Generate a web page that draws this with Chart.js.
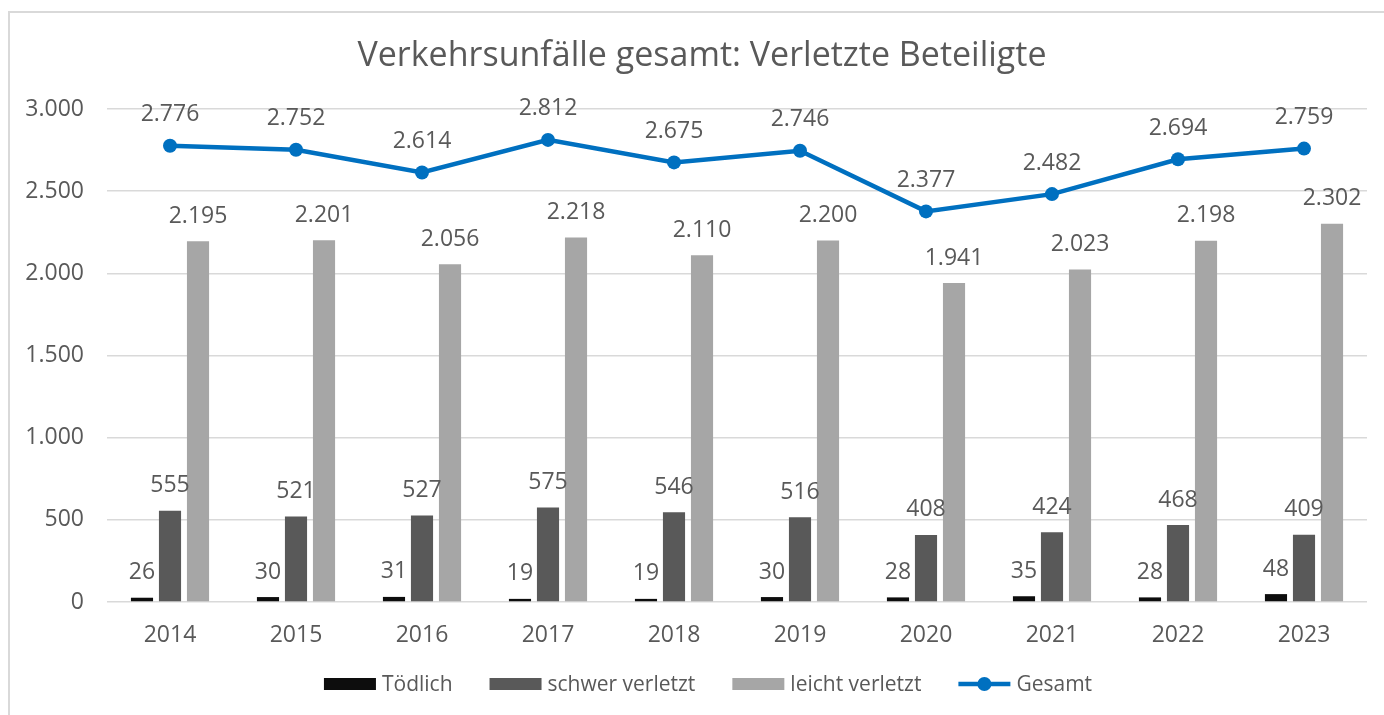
<!DOCTYPE html>
<html>
<head>
<meta charset="utf-8">
<script src="https://cdn.jsdelivr.net/npm/chart.js@4.4.1/dist/chart.umd.min.js"></script>
<style>
  html, body { margin: 0; padding: 0; background: #fff; overflow: hidden; }
  #frame { position: absolute; left: 8px; top: 11px; width: 1400px; height: 720px;
           border-left: 2px solid #d9d9d9; border-top: 2px solid #d9d9d9; }
  #wrap { position: absolute; left: 0; top: 0; width: 1384px; height: 715px; }
</style>
</head>
<body>
<div id="frame"></div>
<div id="wrap"><canvas id="myChart" width="1384" height="715"></canvas></div>
<script>
const chartTitle = 'Verkehrsunfälle gesamt: Verletzte Beteiligte'
const years = ['2014', '2015', '2016', '2017', '2018', '2019', '2020', '2021', '2022', '2023']
const toedlich = [26, 30, 31, 19, 19, 30, 28, 35, 28, 48]
const schwerVerletzt = [555, 521, 527, 575, 546, 516, 408, 424, 468, 409]
const leichtVerletzt = [2195, 2201, 2056, 2218, 2110, 2200, 1941, 2023, 2198, 2302]
const gesamt = [2776, 2752, 2614, 2812, 2675, 2746, 2377, 2482, 2694, 2759]
const yTicks = [0, 500, 1000, 1500, 2000, 2500, 3000]

const textColor = '#595959'
const fontFamily = "'Open Sans', 'Noto Sans', sans-serif"

var fmt = (v) => String(v).replace(/\B(?=(\d{3})+(?!\d))/g, '.')

// title, value labels and legend drawn on the canvas
const extras = {
    id: 'extras',
    afterDatasetsDraw(chart) {
        const ctx = chart.ctx
        ctx.save()
        ctx.fillStyle = textColor
        ctx.font = '23px ' + fontFamily
        ctx.textAlign = 'center'
        ctx.textBaseline = 'middle'
        chart.data.datasets.forEach((ds, i) => {
            const meta = chart.getDatasetMeta(i)
            meta.data.forEach((el, j) => {
                const off = ds.type === 'line' ? 31 : 25
                ctx.fillText(fmt(ds.data[j]), el.x, el.y - off)
            })
        })
        ctx.restore()
    },
    afterDraw(chart) {
        const ctx = chart.ctx
        ctx.save()
        ctx.fillStyle = textColor
        ctx.font = '34px ' + fontFamily
        ctx.textAlign = 'center'
        ctx.textBaseline = 'alphabetic'
        ctx.fillText(chartTitle, 702, 66)

        // legend
        ctx.font = '21px ' + fontFamily
        ctx.textAlign = 'left'
        ctx.textBaseline = 'middle'
        const items = chart.data.datasets.map(ds => ({
            text: ds.label, color: ds.type === 'line' ? ds.borderColor : ds.backgroundColor,
            line: ds.type === 'line', w: 52
        }))
        const gap = 6, sep = 37
        let total = 0
        items.forEach((it, k) => {
            it.tw = ctx.measureText(it.text).width
            total += it.w + gap + it.tw + (k < items.length - 1 ? sep : 0)
        })
        let x = 708 - total / 2
        const y = 684
        items.forEach(it => {
            if (it.line) {
                ctx.strokeStyle = it.color
                ctx.lineWidth = 4.5
                ctx.beginPath()
                ctx.moveTo(x, y)
                ctx.lineTo(x + it.w, y)
                ctx.stroke()
                ctx.fillStyle = it.color
                ctx.beginPath()
                ctx.arc(x + it.w / 2, y, 7, 0, Math.PI * 2)
                ctx.fill()
            } else {
                ctx.fillStyle = it.color
                ctx.fillRect(x, y - 6, it.w, 12)
            }
            ctx.fillStyle = textColor
            ctx.fillText(it.text, x + it.w + gap, y + 1)
            x += it.w + gap + it.tw + sep
        })
        ctx.restore()
    }
}

const barOpts = { barPercentage: 0.79, categoryPercentage: 0.667 }

const data = {
    labels: years,
    datasets: [
        Object.assign({ type: 'bar', label: 'Tödlich', data: toedlich, backgroundColor: '#0d0d0d', order: 2 }, barOpts),
        Object.assign({ type: 'bar', label: 'schwer verletzt', data: schwerVerletzt, backgroundColor: '#595959', order: 2 }, barOpts),
        Object.assign({ type: 'bar', label: 'leicht verletzt', data: leichtVerletzt, backgroundColor: '#a6a6a6', order: 2 }, barOpts),
        {
            type: 'line', label: 'Gesamt', data: gesamt,
            borderColor: '#0070c0', backgroundColor: '#0070c0',
            borderWidth: 4.5, pointRadius: 7, pointHoverRadius: 7,
            pointBackgroundColor: '#0070c0', pointBorderWidth: 0,
            tension: 0, order: 1
        }
    ]
}

const config = {
    type: 'bar',
    data: data,
    options: {
        responsive: false,
        animation: false,
        layout: { padding: { top: 109, right: 17, bottom: 63, left: 0 } },
        plugins: {
            legend: { display: false },
            title: { display: false },
            tooltip: { enabled: false }
        },
        scales: {
            x: {
                grid: { display: false },
                border: { display: false },
                ticks: { color: textColor, font: { family: fontFamily, size: 23 }, padding: 12 },
                afterFit: (s) => { s.height = 50 }
            },
            y: {
                min: 0, max: 3000,
                grid: { color: '#d9d9d9', lineWidth: 1.5, drawTicks: false },
                border: { display: false },
                afterBuildTicks: (s) => { s.ticks = yTicks.map(v => ({ value: v })) },
                ticks: {
                    color: textColor, font: { family: fontFamily, size: 23 }, padding: 23,
                    callback: (v) => fmt(v)
                },
                afterFit: (s) => { s.width = 107 }
            }
        }
    },
    plugins: [extras]
}

const myChart = new Chart(document.getElementById('myChart'), config)
</script>
</body>
</html>
